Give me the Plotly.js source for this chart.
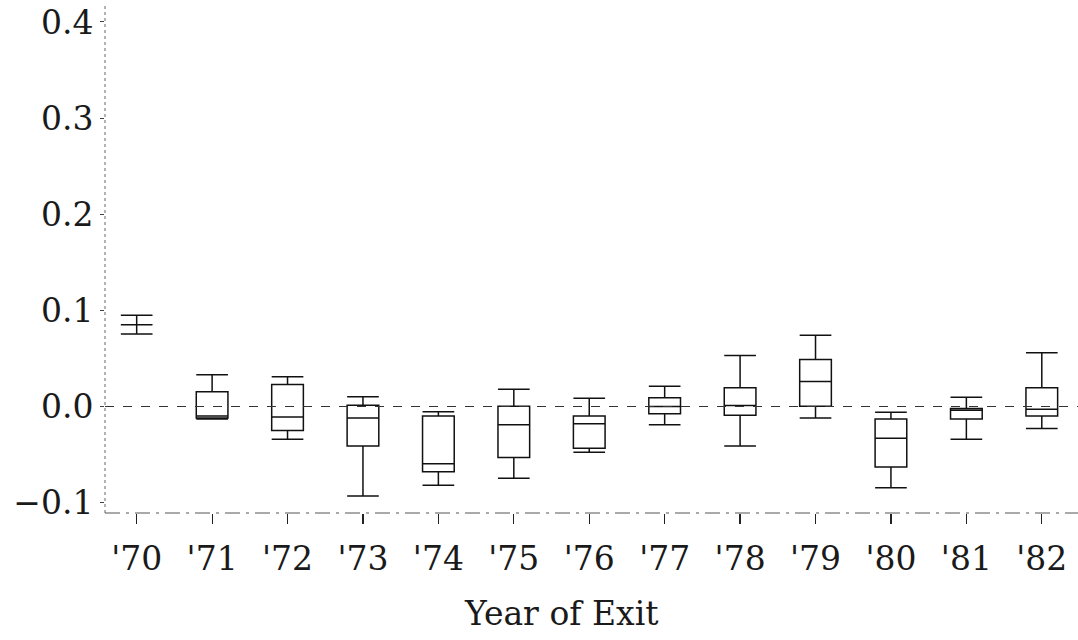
<!DOCTYPE html>
<html>
<head>
<meta charset="utf-8">
<script src="https://cdn.plot.ly/plotly-3.0.1.min.js"></script>
<style>html,body{margin:0;padding:0;background:#fff;}#chart{width:1078px;height:640px;}</style>
</head>
<body>
<div id="chart"></div>
<script>
// Year-of-exit categories and box statistics
const years  = ["'70","'71","'72","'73","'74","'75","'76","'77","'78","'79","'80","'81","'82"];
const upper  = [0.095, 0.033, 0.031, 0.010, -0.0055, 0.018, 0.0085, 0.021, 0.053, 0.074, -0.006, 0.0095, 0.056];
const q3     = [0.085, 0.0154, 0.023, 0.0013, -0.010, 0.0003, -0.010, 0.0092, 0.0195, 0.049, -0.013, -0.002, 0.0195];
const median = [0.085, -0.010, -0.011, -0.012, -0.0595, -0.019, -0.018, 0.0, 0.001, 0.026, -0.033, -0.004, -0.003];
const q1     = [0.085, -0.012, -0.025, -0.041, -0.068, -0.053, -0.0435, -0.0076, -0.009, 0.0003, -0.063, -0.013, -0.010];
const lower  = [0.0755, -0.013, -0.034, -0.093, -0.082, -0.0746, -0.0476, -0.019, -0.041, -0.012, -0.0845, -0.034, -0.023];
const yTicks = [-0.1, 0.0, 0.1, 0.2, 0.3, 0.4];

const xIdx = years.map((_, i) => i);

const trace = {
  type: 'box',
  x: xIdx,
  q1: q1, median: median, q3: q3,
  lowerfence: lower, upperfence: upper,
  width: 0.42,
  whiskerwidth: 1,
  fillcolor: 'rgba(255,255,255,0)',
  line: {color: '#111', width: 1.5},
  boxpoints: false,
  hoverinfo: 'skip',
  showlegend: false
};

const serif = '"DejaVu Serif", "Liberation Serif", serif';
const txt = '#1a1a1a';

const layout = {
  width: 1078, height: 640,
  margin: {l: 105, r: 0, t: 16, b: 127},
  paper_bgcolor: '#fff', plot_bgcolor: '#fff',
  font: {family: serif, color: txt},
  xaxis: {
    range: [-0.42, 12.48],
    tickmode: 'array', tickvals: xIdx, ticktext: years,
    ticks: 'outside', ticklen: 10, tickwidth: 1.2, tickcolor: '#222',
    ticklabelstandoff: 6,
    tickfont: {family: serif, size: 33, color: txt},
    showgrid: false, zeroline: false, showline: false
  },
  yaxis: {
    range: [-0.1108, 0.4062],
    tickmode: 'array', tickvals: yTicks, tickformat: '.1f',
    ticks: 'outside', ticklen: 4, tickwidth: 1, tickcolor: '#444',
    ticklabeloverflow: 'allow',
    tickfont: {family: serif, size: 33, color: txt},
    showgrid: false, zeroline: false, showline: false
  },
  shapes: [
    {type: 'line', xref: 'paper', yref: 'y', x0: 0, x1: 1, y0: 0, y1: 0,
     line: {color: '#333', width: 1.2, dash: 'dash'}},
    {type: 'line', xref: 'paper', yref: 'paper', x0: 0, x1: 0, y0: 0, y1: 1.022,
     line: {color: '#666', width: 1, dash: 'dot'}},
    {type: 'line', xref: 'paper', yref: 'paper', x0: 0, x1: 1, y0: 0, y1: 0,
     line: {color: '#555', width: 1, dash: 'longdashdot'}}
  ],
  annotations: [
    {text: 'Year of Exit', xref: 'paper', yref: 'paper', x: 0.4687, y: -0.158,
     xanchor: 'center', yanchor: 'top', showarrow: false,
     font: {family: serif, size: 33, color: txt}}
  ]
};

Plotly.newPlot('chart', [trace], layout, {displayModeBar: false, staticPlot: true});
</script>
</body>
</html>
